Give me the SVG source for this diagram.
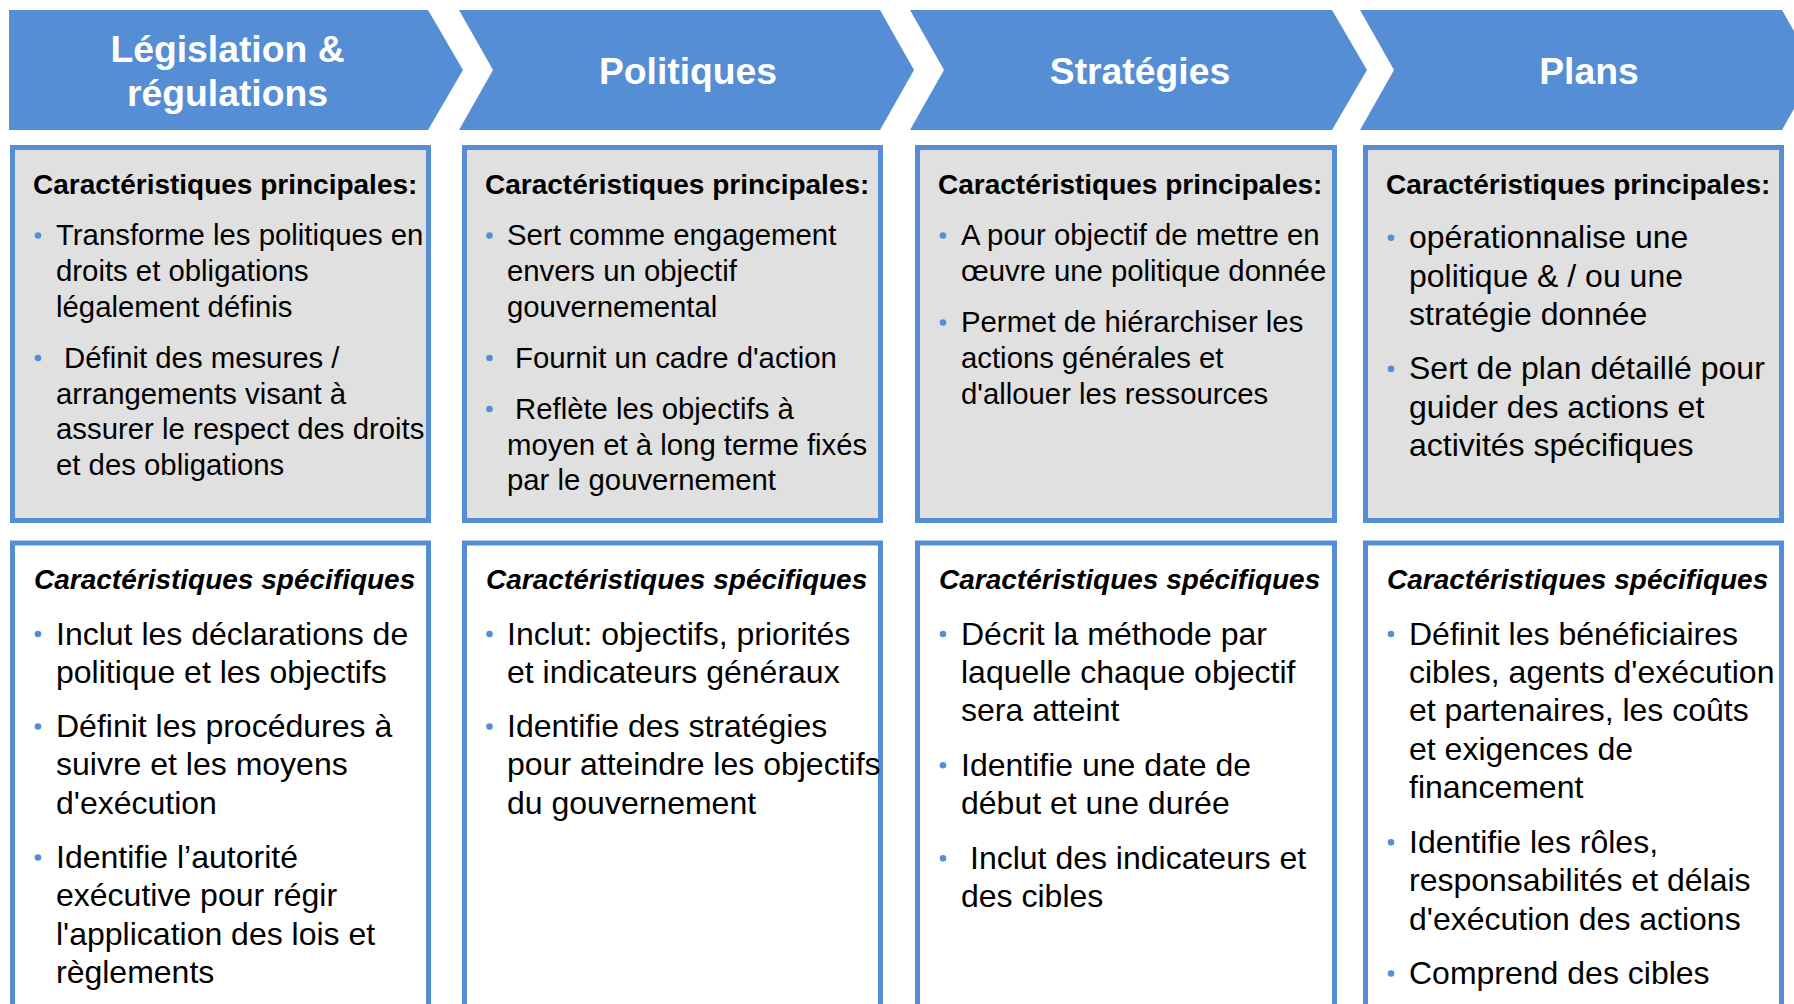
<svg xmlns="http://www.w3.org/2000/svg" width="1794" height="1004" viewBox="0 0 1794 1004">
<style>
.chev{fill:#558ed5}
.title{font-family:"Liberation Sans",Arial,sans-serif;font-weight:bold;font-size:37.3px;fill:#ffffff;text-anchor:middle}
.boxtop{fill:#e0e0e0;stroke:#558ed5;stroke-width:5}
.boxbot{fill:#ffffff;stroke:#558ed5;stroke-width:5}
.h1{font-family:"Liberation Sans",Arial,sans-serif;font-weight:bold;font-size:28px;fill:#000000}
.h2{font-family:"Liberation Sans",Arial,sans-serif;font-weight:bold;font-style:italic;font-size:28px;fill:#000000}
.t29{font-family:"Liberation Sans",Arial,sans-serif;font-size:29.33px;fill:#000000}
.t32{font-family:"Liberation Sans",Arial,sans-serif;font-size:32px;fill:#000000}
.dot{fill:#558ed5}
</style>
<rect width="1794" height="1004" fill="#ffffff"/>
<g id="chevrons">
<g id="chev-legislation">
<path class="chev" d="M9,10 L428,10 L463,70 L428,130 L9,130 Z"/>
<text class="title" x="227.5" y="62">Législation &amp;</text>
<text class="title" x="227.5" y="106">régulations</text>
</g>
<g id="chev-politiques">
<path class="chev" d="M459,10 L880,10 L914,70 L880,130 L459,130 L493,70 Z"/>
<text class="title" x="688" y="84">Politiques</text>
</g>
<g id="chev-strategies">
<path class="chev" d="M910,10 L1332,10 L1367,70 L1332,130 L910,130 L944,70 Z"/>
<text class="title" x="1140" y="84">Stratégies</text>
</g>
<g id="chev-plans">
<path class="chev" d="M1360,10 L1782,10 L1816,70 L1782,130 L1360,130 L1394,70 Z"/>
<text class="title" x="1589" y="84">Plans</text>
</g>
</g>
<g id="connectors"></g>

<!-- Column 1 -->
<g id="main-legislation">
<rect class="boxtop" x="12.5" y="147.5" width="416" height="373"/>
<text class="h1" x="33" y="194">Caractéristiques principales:</text>
<circle class="dot" cx="38" cy="235.5" r="3.3"/>
<text class="t29"><tspan x="56" y="245.2">Transforme les politiques en</tspan><tspan x="56" y="280.9">droits et obligations</tspan><tspan x="56" y="316.6">légalement définis</tspan></text>
<circle class="dot" cx="38" cy="358" r="3.3"/>
<text class="t29"><tspan x="64" y="367.8">Définit des mesures /</tspan><tspan x="56" y="403.5">arrangements visant à</tspan><tspan x="56" y="439.2">assurer le respect des droits</tspan><tspan x="56" y="474.9">et des obligations</tspan></text>
</g>
<g id="spec-legislation">
<rect class="boxbot" x="12.5" y="543" width="416" height="480"/>
<text class="h2" x="34" y="589">Caractéristiques spécifiques</text>
<circle class="dot" cx="38" cy="634" r="3.3"/>
<text class="t32"><tspan x="56" y="644.5">Inclut les déclarations de</tspan><tspan x="56" y="682.9">politique et les objectifs</tspan></text>
<circle class="dot" cx="38" cy="726.5" r="3.3"/>
<text class="t32"><tspan x="56" y="737">Définit les procédures à</tspan><tspan x="56" y="775.4">suivre et les moyens</tspan><tspan x="56" y="813.8">d'exécution</tspan></text>
<circle class="dot" cx="38" cy="857.5" r="3.3"/>
<text class="t32"><tspan x="56" y="868">Identifie l’autorité</tspan><tspan x="56" y="906.4">exécutive pour régir</tspan><tspan x="56" y="944.8">l'application des lois et</tspan><tspan x="56" y="983.2">règlements</tspan></text>
</g>

<!-- Column 2 -->
<g id="main-politiques">
<rect class="boxtop" x="464.5" y="147.5" width="416" height="373"/>
<text class="h1" x="485" y="194">Caractéristiques principales:</text>
<circle class="dot" cx="489.5" cy="235.5" r="3.3"/>
<text class="t29"><tspan x="507" y="245.2">Sert comme engagement</tspan><tspan x="507" y="280.9">envers un objectif</tspan><tspan x="507" y="316.6">gouvernemental</tspan></text>
<circle class="dot" cx="489.5" cy="358" r="3.3"/>
<text class="t29"><tspan x="515" y="367.8">Fournit un cadre d'action</tspan></text>
<circle class="dot" cx="489.5" cy="409" r="3.3"/>
<text class="t29"><tspan x="515" y="419">Reflète les objectifs à</tspan><tspan x="507" y="454.7">moyen et à long terme fixés</tspan><tspan x="507" y="490.4">par le gouvernement</tspan></text>
</g>
<g id="spec-politiques">
<rect class="boxbot" x="464.5" y="543" width="416" height="480"/>
<text class="h2" x="486" y="589">Caractéristiques spécifiques</text>
<circle class="dot" cx="489.5" cy="634" r="3.3"/>
<text class="t32"><tspan x="507" y="644.5">Inclut: objectifs, priorités</tspan><tspan x="507" y="682.9">et indicateurs généraux</tspan></text>
<circle class="dot" cx="489.5" cy="726.5" r="3.3"/>
<text class="t32"><tspan x="507" y="737">Identifie des stratégies</tspan><tspan x="507" y="775.4">pour atteindre les objectifs</tspan><tspan x="507" y="813.8">du gouvernement</tspan></text>
</g>

<!-- Column 3 -->
<g id="main-strategies">
<rect class="boxtop" x="917.5" y="147.5" width="417" height="373"/>
<text class="h1" x="938" y="194">Caractéristiques principales:</text>
<circle class="dot" cx="943" cy="235.5" r="3.3"/>
<text class="t29"><tspan x="961" y="245.2">A pour objectif de mettre en</tspan><tspan x="961" y="280.9">œuvre une politique donnée</tspan></text>
<circle class="dot" cx="943" cy="322.5" r="3.3"/>
<text class="t29"><tspan x="961" y="332.2">Permet de hiérarchiser les</tspan><tspan x="961" y="367.9">actions générales et</tspan><tspan x="961" y="403.6">d'allouer les ressources</tspan></text>
</g>
<g id="spec-strategies">
<rect class="boxbot" x="917.5" y="543" width="417" height="480"/>
<text class="h2" x="939" y="589">Caractéristiques spécifiques</text>
<circle class="dot" cx="943" cy="634" r="3.3"/>
<text class="t32"><tspan x="961" y="644.5">Décrit la méthode par</tspan><tspan x="961" y="682.9">laquelle chaque objectif</tspan><tspan x="961" y="721.3">sera atteint</tspan></text>
<circle class="dot" cx="943" cy="765.3" r="3.3"/>
<text class="t32"><tspan x="961" y="775.8">Identifie une date de</tspan><tspan x="961" y="814.2">début et une durée</tspan></text>
<circle class="dot" cx="943" cy="858.2" r="3.3"/>
<text class="t32"><tspan x="970" y="868.7">Inclut des indicateurs et</tspan><tspan x="961" y="907.1">des cibles</tspan></text>
</g>

<!-- Column 4 -->
<g id="main-plans">
<rect class="boxtop" x="1365.5" y="147.5" width="416" height="373"/>
<text class="h1" x="1386" y="194">Caractéristiques principales:</text>
<circle class="dot" cx="1391" cy="237.7" r="3.3"/>
<text class="t32"><tspan x="1409" y="248.2">opérationnalise une</tspan><tspan x="1409" y="286.6">politique &amp; / ou une</tspan><tspan x="1409" y="325">stratégie donnée</tspan></text>
<circle class="dot" cx="1391" cy="368.9" r="3.3"/>
<text class="t32"><tspan x="1409" y="379.4">Sert de plan détaillé pour</tspan><tspan x="1409" y="417.8">guider des actions et</tspan><tspan x="1409" y="456.2">activités spécifiques</tspan></text>
</g>
<g id="spec-plans">
<rect class="boxbot" x="1365.5" y="543" width="416" height="480"/>
<text class="h2" x="1387" y="589">Caractéristiques spécifiques</text>
<circle class="dot" cx="1391" cy="634" r="3.3"/>
<text class="t32"><tspan x="1409" y="644.5">Définit les bénéficiaires</tspan><tspan x="1409" y="682.9">cibles, agents d'exécution</tspan><tspan x="1409" y="721.3">et partenaires, les coûts</tspan><tspan x="1409" y="759.7">et exigences de</tspan><tspan x="1409" y="798.1">financement</tspan></text>
<circle class="dot" cx="1391" cy="842.2" r="3.3"/>
<text class="t32"><tspan x="1409" y="852.7">Identifie les rôles,</tspan><tspan x="1409" y="891.1">responsabilités et délais</tspan><tspan x="1409" y="929.5">d'exécution des actions</tspan></text>
<circle class="dot" cx="1391" cy="973.5" r="3.3"/>
<text class="t32"><tspan x="1409" y="984">Comprend des cibles</tspan></text>
</g>
</svg>
